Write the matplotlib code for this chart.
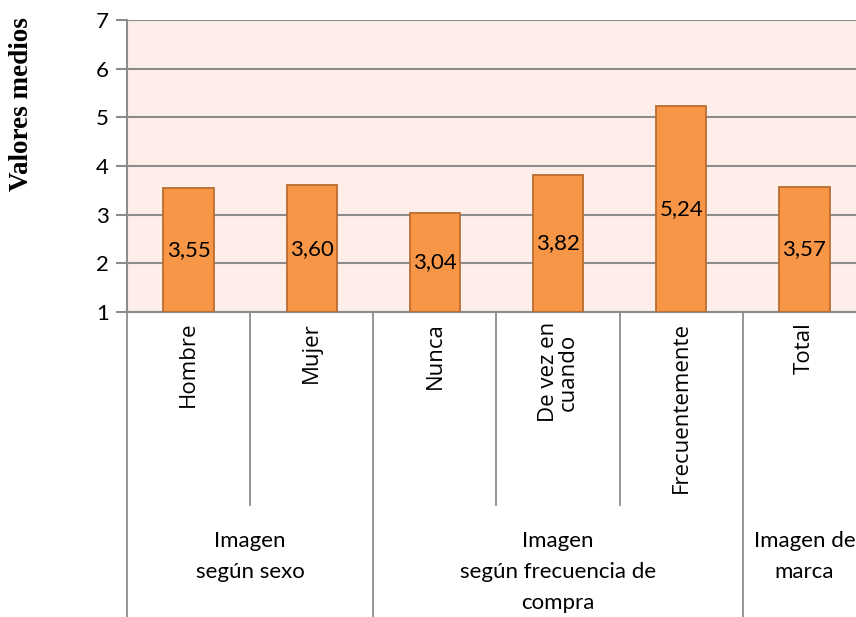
import numpy as np
import matplotlib.pyplot as plt
from matplotlib.transforms import blended_transform_factory

categorias = ["Hombre", "Mujer", "Nunca", "De vez en\ncuando", "Frecuentemente", "Total"]
valores = [3.55, 3.60, 3.04, 3.82, 5.24, 3.57]
etiquetas = ["3,55", "3,60", "3,04", "3,82", "5,24", "3,57"]
grupos = ["Imagen\nsegún sexo", "Imagen\nsegún frecuencia de\ncompra", "Imagen de\nmarca"]
grupo_tam = [2, 3, 1]
yticks = [1, 2, 3, 4, 5, 6, 7]

W, H = 856, 617
fig = plt.figure(figsize=(W / 100, H / 100), dpi=100)
# plot area runs past the right edge like the original
left, right, top, bottom = 127, 866, 20, 312
ax = fig.add_axes([left / W, 1 - bottom / H, (right - left) / W, (bottom - top) / H])

gris = "#8c8c8c"
ax.set_facecolor("#fdeee9")
x = np.arange(len(categorias))
ax.bar(x, np.array(valores) - 1, bottom=1, width=0.41, color="#f79646",
       edgecolor="#b96d30", linewidth=1.3, zorder=3)
for xi, v, t in zip(x, valores, etiquetas):
    ax.text(xi, (1 + v) / 2, t, ha="center", va="center", fontsize=16,
            family="Lato", zorder=4)

ax.set_xlim(-0.5, len(categorias) - 0.5)
ax.set_ylim(1, 7)
ax.set_yticks(yticks)
ax.set_yticklabels([str(t) for t in yticks], fontsize=16, family="Lato")
ax.tick_params(axis="y", length=8, color=gris, width=1.5, pad=5)
ax.set_xticks([])
ax.grid(axis="y", color=gris, linewidth=1.5, zorder=1)
for s in ["top", "right"]:
    ax.spines[s].set_visible(False)
for s in ["left", "bottom"]:
    ax.spines[s].set_color(gris)
    ax.spines[s].set_linewidth(1.5)

tr = blended_transform_factory(ax.transData, ax.transAxes)
px = 1 / (bottom - top)  # one pixel in axes fraction

# category labels, rotated
for xi, c in zip(x, categorias):
    ax.text(xi, -10 * px, c, rotation=90, ha="center", va="top", fontsize=16,
            family="Open Sans", multialignment="center", linespacing=0.9,
            transform=tr)

# separators of the category table
limites = np.cumsum([0] + grupo_tam) - 0.5
for b in np.arange(-0.5, len(categorias) + 0.5):
    fondo = -(H - bottom + 5) * px if b in limites else -(505 - bottom) * px
    ax.plot([b, b], [0, fondo], color=gris, linewidth=1.3, transform=tr,
            clip_on=False)

# group labels
for i, g in enumerate(grupos):
    centro = (limites[i] + limites[i + 1]) / 2
    ax.text(centro, -(531 - bottom) * px, g, ha="center", va="top", fontsize=16,
            family="Lato", linespacing=1.7, transform=tr)

fig.text(22 / W, 1 - 104 / H, "Valores medios", rotation=90, ha="center",
         va="center", fontsize=19.5, fontweight="bold", family="Liberation Serif")

fig.savefig("out.png", dpi=100)
